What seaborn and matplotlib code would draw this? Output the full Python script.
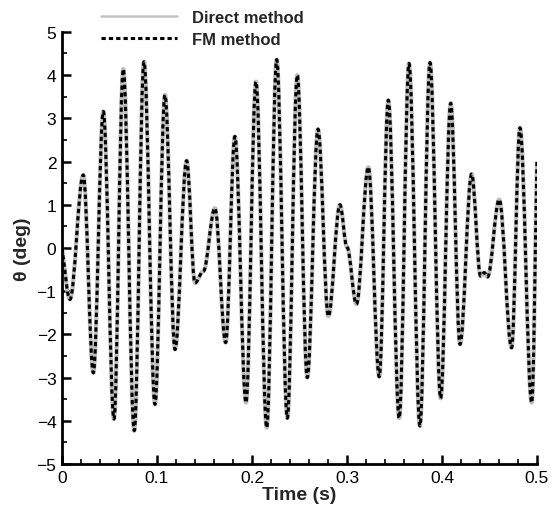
import numpy as np
import pandas as pd
import matplotlib
matplotlib.use("Agg")
import matplotlib.pyplot as plt
import seaborn as sns
from matplotlib.ticker import MultipleLocator, FixedLocator
from matplotlib.path import Path
from matplotlib.patches import PathPatch

# ---- data (turning points of the response) ----
time_s = [0.0, 0.0084, 0.0224, 0.0330, 0.0435, 0.0547, 0.0645, 0.0761, 0.0863,
          0.0979, 0.1084, 0.1190, 0.1312, 0.1400, 0.1488, 0.1610, 0.1723, 0.1820,
          0.1937, 0.2042, 0.2155, 0.2260, 0.2372, 0.2477, 0.2582, 0.2695, 0.2804,
          0.2926, 0.3000, 0.3100, 0.3225, 0.3340, 0.3435, 0.3550, 0.3653,
          0.3768, 0.3874, 0.3986, 0.4092, 0.4190, 0.4312, 0.4407, 0.4445, 0.4480,
          0.4603, 0.4733, 0.4821, 0.4945, 0.5000]
theta_direct = [0.0, -1.19, 1.69, -2.89, 3.16, -3.96, 4.14, -4.23, 4.31,
                -3.62, 3.54, -2.35, 2.02, -0.81, -0.54, 0.92, -2.19, 2.58,
                -3.58, 3.85, -4.16, 4.36, -3.94, 4.00, -3.00, 2.75, -1.58,
                1.00, 0.02, -1.30, 1.87, -2.98, 3.42, -3.94, 4.27,
                -4.12, 4.29, -3.48, 3.35, -2.23, 1.71, -0.65, -0.57, -0.67,
                1.12, -2.31, 2.78, -3.58, 2.00]
theta_fm = [0.0, -1.19, 1.69, -2.89, 3.16, -3.96, 4.14, -4.23, 4.31,
            -3.62, 3.54, -2.35, 2.02, -0.81, -0.54, 0.92, -2.19, 2.58,
            -3.58, 3.85, -4.16, 4.36, -3.94, 4.00, -3.00, 2.75, -1.58,
            1.00, 0.02, -1.30, 1.87, -2.98, 3.42, -3.94, 4.27,
            -4.12, 4.29, -3.48, 3.35, -2.23, 1.71, -0.65, -0.57, -0.67,
            1.12, -2.31, 2.78, -3.58, 2.00]
series_names = ["Direct method", "FM method"]
x_ticks = [0, 0.1, 0.2, 0.3, 0.4, 0.5]
x_tick_labels = ["0", "0.1", "0.2", "0.3", "0.4", "0.5"]
y_ticks = [-5, -4, -3, -2, -1, 0, 1, 2, 3, 4, 5]

sns.set_theme(style="ticks")
plt.rcParams["font.family"] = ["Liberation Sans", "DejaVu Sans"]

df_direct = pd.DataFrame({"t": time_s, "theta": theta_direct})
df_fm = pd.DataFrame({"t": time_s, "theta": theta_fm})

fig = plt.figure(figsize=(5.51, 5.06), dpi=100)
ax = fig.add_axes([0.1125, 0.081, 0.862, 0.854])

sns.lineplot(data=df_direct, x="t", y="theta", ax=ax, color="#bdbdbd",
             linewidth=3.0, label=series_names[0], sort=False)
sns.lineplot(data=df_fm, x="t", y="theta", ax=ax, color="black",
             linewidth=2.2, label=series_names[1], sort=False)
ax.lines[1].set_dashes((1.4, 1.0))


def smooth_path(x, y, k=0.36):
    """Render the turning points as a smooth curve (horizontal tangents at
    turning points, chord slope at the two ends)."""
    x = np.asarray(x, float)
    y = np.asarray(y, float)
    n = len(x)
    m = np.zeros(n)
    m[0] = (y[1] - y[0]) / (x[1] - x[0])
    m[-1] = (y[-1] - y[-2]) / (x[-1] - x[-2])
    verts = [(x[0], y[0])]
    codes = [Path.MOVETO]
    for i in range(n - 1):
        dt = x[i + 1] - x[i]
        verts += [(x[i] + k * dt, y[i] + k * dt * m[i]),
                  (x[i + 1] - k * dt, y[i + 1] - k * dt * m[i + 1]),
                  (x[i + 1], y[i + 1])]
        codes += [Path.CURVE4] * 3
    return Path(verts, codes)


ax.get_legend().remove()
handles, labels = ax.get_legend_handles_labels()
leg = fig.legend(handles, labels, loc="upper left", bbox_to_anchor=(0.183, 0.979),
                 frameon=False, handlelength=4.6, handletextpad=0.9,
                 borderpad=0, borderaxespad=0, labelspacing=0.45,
                 prop={"weight": "bold", "size": 12})
leg_lines = leg.get_lines()
leg_lines[0].set_linewidth(1.8)
leg_lines[0].set_color("#c4c4c4")

# draw the series as smooth curves in data coordinates, replacing the polylines
for line in list(ax.lines):
    xd, yd = line.get_xdata(), line.get_ydata()
    patch = PathPatch(smooth_path(xd, yd), fill=False,
                      edgecolor=line.get_color(), linewidth=line.get_linewidth(),
                      linestyle=line.get_linestyle(), transform=ax.transData,
                      capstyle="butt", joinstyle="round", zorder=line.get_zorder())
    if line is ax.lines[1]:
        patch.set_linestyle((0, (1.4, 1.0)))
    ax.add_patch(patch)
    line.set_visible(False)

ax.set_xlim(0, 0.5)
ax.set_ylim(-5, 5)
ax.xaxis.set_major_locator(FixedLocator(x_ticks))
ax.set_xticklabels(x_tick_labels)
ax.xaxis.set_minor_locator(MultipleLocator(0.02))
ax.yaxis.set_major_locator(FixedLocator(y_ticks))
ax.yaxis.set_minor_locator(MultipleLocator(0.5))

for side in ["top", "right"]:
    ax.spines[side].set_visible(False)
for side in ["left", "bottom"]:
    ax.spines[side].set_linewidth(2.0)
    ax.spines[side].set_color("black")

ax.tick_params(axis="both", which="major", direction="in", length=6.5, width=1.8,
               labelsize=12.5, colors="black", pad=4)
ax.tick_params(axis="both", which="minor", direction="in", length=3.5, width=1.2,
               colors="black")

ax.set_xlabel("Time (s)", fontsize=14, fontweight="bold", labelpad=1)
ax.set_ylabel("\u03b8 (deg)", fontsize=14, fontweight="bold", labelpad=4)

fig.savefig("out.png", dpi=100)
